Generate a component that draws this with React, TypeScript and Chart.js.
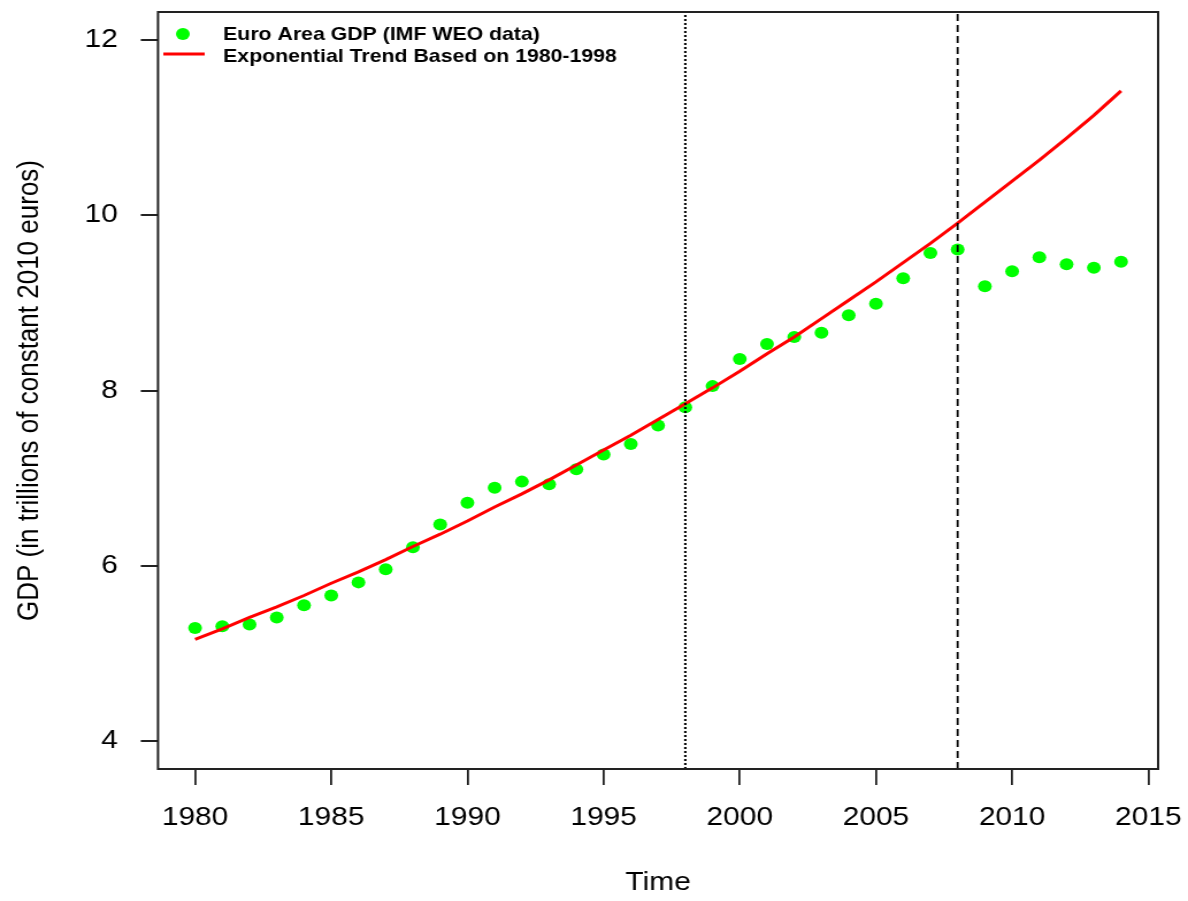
import React, { useEffect, useRef } from "react";
import { Chart, registerables } from "chart.js";

Chart.register(...registerables);

const years = [
  1980, 1981, 1982, 1983, 1984, 1985, 1986, 1987, 1988, 1989,
  1990, 1991, 1992, 1993, 1994, 1995, 1996, 1997, 1998, 1999,
  2000, 2001, 2002, 2003, 2004, 2005, 2006, 2007, 2008, 2009,
  2010, 2011, 2012, 2013, 2014,
];

const gdpValues = [
  5.29, 5.31, 5.33, 5.41, 5.55, 5.66, 5.81, 5.96, 6.21, 6.47,
  6.72, 6.89, 6.96, 6.93, 7.10, 7.27, 7.39, 7.60, 7.81, 8.05,
  8.36, 8.53, 8.61, 8.66, 8.86, 8.99, 9.28, 9.57, 9.61, 9.19,
  9.36, 9.52, 9.44, 9.40, 9.47,
];

const trendValues = [
  5.16, 5.28, 5.41, 5.53, 5.66, 5.80, 5.93, 6.07, 6.22, 6.36,
  6.51, 6.67, 6.82, 6.98, 7.15, 7.32, 7.49, 7.67, 7.85, 8.03,
  8.22, 8.42, 8.61, 8.82, 9.03, 9.24, 9.46, 9.68, 9.91, 10.15,
  10.39, 10.63, 10.88, 11.14, 11.42,
];

const xTickValues = [1980, 1985, 1990, 1995, 2000, 2005, 2010, 2015];
const yTickValues = [4, 6, 8, 10, 12];
const vlineDotted = 1998;
const vlineDashed = 2008;

const seriesLabels = ["Euro Area GDP (IMF WEO data)", "Exponential Trend Based on 1980-1998"];
const xTitle = "Time";
const yTitle = "GDP (in trillions of constant 2010 euros)";

const X_MIN = 1978.64;
const X_MAX = 2015.36;
const Y_MIN = 3.68;
const Y_MAX = 12.32;

const FONT = '"Liberation Sans", Arial, Helvetica, sans-serif';
const LOGICAL_W = 1033;
const H = 901;

const boxPlugin = {
  id: "boxPlugin",
  afterDraw(chart: any) {
    const { ctx, chartArea } = chart;
    ctx.save();
    ctx.strokeStyle = "#222";
    ctx.lineWidth = 2;
    ctx.strokeRect(chartArea.left, chartArea.top, chartArea.right - chartArea.left, chartArea.bottom - chartArea.top);
    ctx.restore();
  },
};

const legendPlugin = {
  id: "rLegend",
  afterDraw(chart: any) {
    const { ctx } = chart;
    const ds = chart.data.datasets;
    const pts = ds.find((d: any) => d.label === seriesLabels[0]);
    const ln = ds.find((d: any) => d.label === seriesLabels[1]);
    ctx.save();
    ctx.fillStyle = pts.backgroundColor;
    ctx.beginPath();
    ctx.arc(159, 34, 6, 0, Math.PI * 2);
    ctx.fill();
    ctx.strokeStyle = ln.borderColor;
    ctx.lineWidth = 3;
    ctx.beginPath();
    ctx.moveTo(142, 54);
    ctx.lineTo(178, 54);
    ctx.stroke();
    ctx.fillStyle = "#000";
    ctx.font = `bold 18.5px ${FONT}`;
    ctx.textAlign = "left";
    ctx.textBaseline = "middle";
    ctx.fillText(pts.label, 194, 35);
    ctx.fillText(ln.label, 194, 57);
    ctx.restore();
  },
};

export default function App() {
  const ref = useRef<HTMLCanvasElement | null>(null);

  useEffect(() => {
    if (!ref.current) return;
    const gdpPoints = years.map((y, i) => ({ x: y, y: gdpValues[i] }));
    const trendPoints = years.map((y, i) => ({ x: y, y: trendValues[i] }));
    const chart = new Chart(ref.current, {
      type: "line",
      data: {
        datasets: [
          {
            label: "vline1998",
            data: [{ x: vlineDotted, y: Y_MIN }, { x: vlineDotted, y: Y_MAX }],
            borderColor: "#000",
            borderWidth: 2,
            borderDash: [2, 2],
            pointRadius: 0,
            showLine: true,
          },
          {
            label: "vline2008",
            data: [{ x: vlineDashed, y: Y_MIN }, { x: vlineDashed, y: Y_MAX }],
            borderColor: "#000",
            borderWidth: 1.8,
            borderDash: [7, 4],
            pointRadius: 0,
            showLine: true,
          },
          {
            label: seriesLabels[1],
            data: trendPoints,
            borderColor: "#FF0000",
            backgroundColor: "#FF0000",
            borderWidth: 3,
            pointRadius: 0,
            tension: 0,
            showLine: true,
          },
          {
            label: seriesLabels[0],
            data: gdpPoints,
            borderColor: "#00FF00",
            backgroundColor: "#00FF00",
            pointBackgroundColor: "#00FF00",
            pointBorderColor: "#00FF00",
            pointBorderWidth: 0,
            pointRadius: 6,
            showLine: false,
          },
        ],
      },
      options: {
        responsive: false,
        animation: false,
        events: [],
        layout: { padding: { top: 12, right: 26, bottom: 0, left: 0 } },
        plugins: {
          legend: { display: false },
          tooltip: { enabled: false },
        },
        scales: {
          x: {
            type: "linear",
            min: X_MIN,
            max: X_MAX,
            afterBuildTicks: (scale: any) => {
              scale.ticks = xTickValues.map((v) => ({ value: v }));
            },
            afterFit: (scale: any) => {
              scale.height = 132;
              scale.paddingLeft = 0;
              scale.paddingRight = 0;
            },
            grid: {
              display: true,
              drawOnChartArea: false,
              drawTicks: true,
              tickLength: 16,
              color: "#222",
              lineWidth: 1.8,
            },
            border: { display: false },
            ticks: {
              color: "#000",
              padding: 17,
              maxRotation: 0,
              autoSkip: false,
              font: { family: FONT, size: 26 },
              callback: (v: any) => String(v),
            },
            title: {
              display: true,
              text: xTitle,
              color: "#000",
              font: { family: FONT, size: 26 },
              padding: { top: 0, bottom: 3 },
            },
          },
          y: {
            type: "linear",
            min: Y_MIN,
            max: Y_MAX,
            afterBuildTicks: (scale: any) => {
              scale.ticks = yTickValues.map((v) => ({ value: v }));
            },
            afterFit: (scale: any) => {
              scale.width = 137.4;
              scale.paddingTop = 0;
              scale.paddingBottom = 0;
            },
            grid: {
              display: true,
              drawOnChartArea: false,
              drawTicks: true,
              tickLength: 15,
              color: "#222",
              lineWidth: 2,
            },
            border: { display: false },
            ticks: {
              color: "#000",
              padding: 20,
              autoSkip: false,
              font: { family: FONT, size: 26 },
              callback: (v: any) => String(v),
            },
            title: {
              display: true,
              text: yTitle,
              color: "#000",
              font: { family: FONT, size: 26 },
              padding: { top: 10, bottom: 0 },
            },
          },
        },
      },
      plugins: [boxPlugin, legendPlugin],
    });
    return () => chart.destroy();
  }, []);

  return (
    <div style={{ position: "absolute", left: 0, top: 0, width: 1188, height: H, background: "#fff" }}>
      <canvas
        ref={ref}
        width={LOGICAL_W}
        height={H}
        style={{ width: "1188px", height: `${H}px`, display: "block" }}
      />
    </div>
  );
}
